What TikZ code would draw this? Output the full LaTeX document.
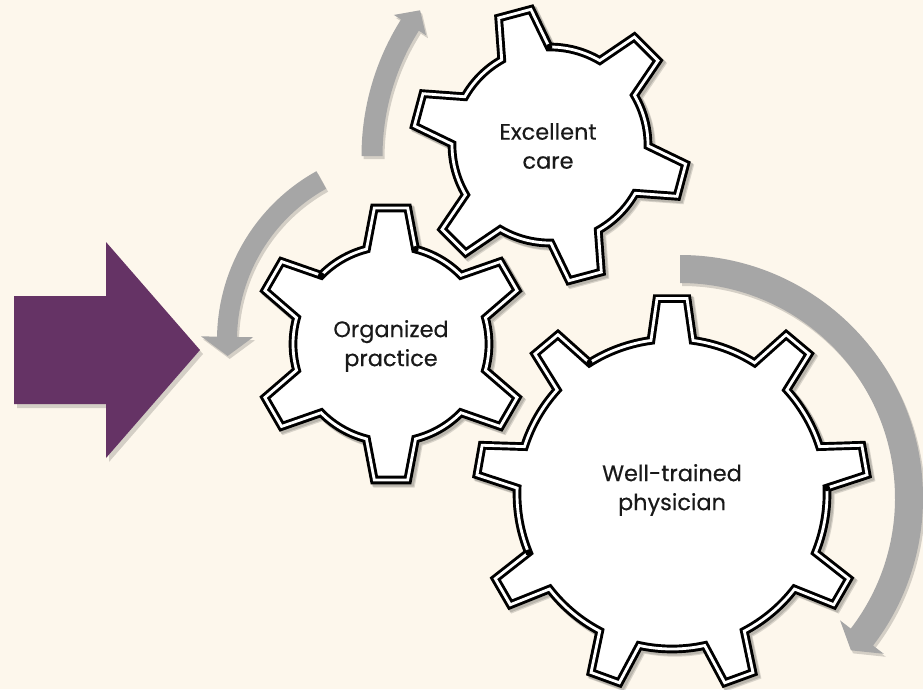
\documentclass[tikz,border=0pt]{standalone}
\usepackage{fontspec}
\setmainfont{Poppins}
\newfontfamily\labelfont[FakeBold=0.35]{Poppins}
\usetikzlibrary{calc}
\definecolor{bg}{RGB}{253,247,236}
\definecolor{plum}{RGB}{101,51,101}
\definecolor{arrgray}{RGB}{166,166,166}
\tikzset{
  gearline/.style={draw=black, line width=2.2pt, double=white, double distance=2.1pt, fill=white, line join=miter},
  gearshadow/.style={fill=black, draw=black, line width=7pt, opacity=0.14},
  arrshadow/.style={fill=black, opacity=0.16},
  gearlabel/.style={font=\labelfont\fontsize{16.8}{21.75}\selectfont, align=center, text=black!90, inner sep=0pt},
  gdot/.style={fill=black},
}
% N, Rr, Ro, ar, at, th0
\newcommand\gearpath[6]{({#6-#4}:#2) \foreach \k in {1,...,#1}{ -- ({#6+(\k-1)*360/#1-#5}:#3) -- ({#6+(\k-1)*360/#1+#5}:#3) -- ({#6+(\k-1)*360/#1+#4}:#2) arc[start angle={#6+(\k-1)*360/#1+#4}, end angle={#6+\k*360/#1-#4}, radius=#2]} -- cycle}
% cx cy N Rr Ro ar at th0
\newcommand\mygear[8]{%
 \begin{scope}[shift={(#1+3,#2+3)}]\filldraw[gearshadow] \gearpath{#3}{#4}{#5}{#6}{#7}{#8};\end{scope}
 \begin{scope}[shift={(#1+2,#2+2)}]\filldraw[gearshadow] \gearpath{#3}{#4}{#5}{#6}{#7}{#8};\end{scope}
 \begin{scope}[shift={(#1,#2)}]\draw[gearline] \gearpath{#3}{#4}{#5}{#6}{#7}{#8};\end{scope}}
% r w H phis phie phit
\newcommand\arcarrowpath[6]{(#4:{#1+#2}) arc[start angle=#4, end angle=#5, radius={#1+#2}] -- (#5:{#1+#3}) -- (#6:#1) -- (#5:{#1-#3}) -- (#5:{#1-#2}) arc[start angle=#5, end angle=#4, radius={#1-#2}] -- cycle}
\newcommand\arcarrow[8]{%
 \begin{scope}[shift={(#1+2,#2+3)}]\fill[arrshadow] \arcarrowpath{#3}{#4}{#5}{#6}{#7}{#8};\end{scope}
 \begin{scope}[shift={(#1,#2)}]\fill[arrgray] \arcarrowpath{#3}{#4}{#5}{#6}{#7}{#8};\end{scope}}
\newcommand\purplepath{(14,296) -- (106,296) -- (106,242) -- (200,350) -- (106,458) -- (106,404) -- (14,404) -- cycle}
\begin{document}
\begin{tikzpicture}[x=0.75pt,y=-0.75pt]
\useasboundingbox (0,0) rectangle (923,689);
\fill[bg] (0,0) rectangle (923,689);
% purple arrow
\begin{scope}[shift={(3,4)}]\fill[arrshadow] \purplepath;\end{scope}
\fill[plum] \purplepath;
% gray curved arrows
\arcarrow{617}{156}{245}{10.5}{19}{180}{212.3}{216.5}
\arcarrow{410}{340}{183}{10}{26}{-119}{-179}{-185}
\arcarrow{680}{498}{229}{14}{27.5}{-90}{37.4}{41.7}
% gears
\mygear{550}{145}{6}{98}{137}{14.5}{7}{-105}
\mygear{391}{344}{6}{98}{137}{14.5}{7}{-90}
\mygear{672}{494}{9}{155}{196}{7.8}{4.4}{-90}
% junction dots
\begin{scope}[shift={(550,145)}]\fill[gdot] (-90.5:98) circle[radius=3.2];\end{scope}
\begin{scope}[shift={(391,344)}]\fill[gdot] (-135.5:98) circle[radius=3.2]; \fill[gdot] (-75.5:98) circle[radius=3.2];\end{scope}
\begin{scope}[shift={(672,494)}]\fill[gdot] (-122.2:155) circle[radius=3.2]; \fill[gdot] (-2.2:155) circle[radius=3.2]; \fill[gdot] (157.8:155) circle[radius=3.2];\end{scope}
% labels
\node[gearlabel] (care) at (548,146) {Excellent\\care};
\node[gearlabel] (practice) at (391,346) {Organized\\practice};
\node[gearlabel] (physician) at (672,490) {Well-trained\\physician};
\end{tikzpicture}
\end{document}
